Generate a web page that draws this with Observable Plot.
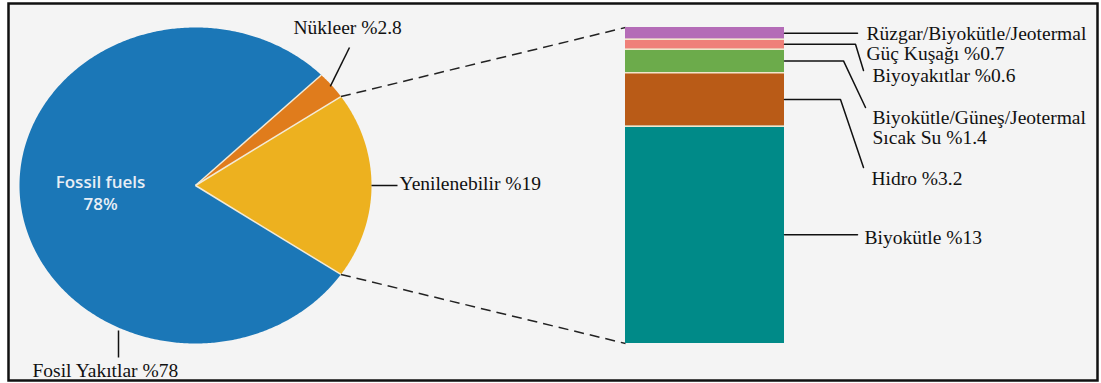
<!DOCTYPE html>
<html><head><meta charset="utf-8">
<script src="https://cdn.jsdelivr.net/npm/d3@7"></script>
<script src="https://cdn.jsdelivr.net/npm/@observablehq/plot@0.6"></script>
<style>
html,body{margin:0;padding:0;background:#fff;}
#chart svg{display:block;}
</style>
</head><body><div id="chart"></div>
<script>
// ---- Pie data (world energy consumption shares) ----
const pieNames = ["Yenilenebilir", "Nükleer", "Fosil Yakıtlar"];
const pieValues = [19, 2.8, 78];
const pieLabels = ["Yenilenebilir %19", "Nükleer %2.8", "Fosil Yakıtlar %78"];
const pieColors = ["#edb11f", "#e07c1c", "#1b77b7"];
const pieInnerLabel = "Fossil fuels\n78%";

// ---- Bar data (breakdown of renewables), bottom to top ----
const barNames = ["Biyokütle", "Hidro", "Biyokütle/Güneş/Jeotermal Sıcak Su", "Biyoyakıtlar", "Rüzgar/Biyokütle/Jeotermal Güç Kuşağı"];
const barValues = [13, 3.2, 1.4, 0.6, 0.7];
const barLabels = ["Biyokütle %13", "Hidro %3.2", "Biyokütle/Güneş/Jeotermal\nSıcak Su %1.4", "Biyoyakıtlar %0.6", "Rüzgar/Biyokütle/Jeotermal\nGüç Kuşağı %0.7"];
const barColors = ["#008a88", "#b95b17", "#6cab4b", "#ef8079", "#b46cb7"];

// ---- layout (pixels) ----
const W = 1101, H = 383;
const barTopPx = 27, barBotPx = 343;
const barX1 = 625, barX2 = 784;
const pieCx = 195, pieRx = 176;
const total = d3.sum(barValues);
const py2y = p => (barBotPx - p) / (barBotPx - barTopPx) * total;
const pieCy = total / 2, pieRy = total / 2;

// leader layout for bar labels (pixels)
const leaderElbowX = [857, 840, 843, 855, 857];
const leaderEnd = [null, [863, 167], [865, 107], [863, 70], null];
const labelX = [864, 871, 872, 872, 866];
const labelPy = [237, 178, 127, 75, 43];

// ---- pie geometry from data ----
const pieSum = d3.sum(pieValues);
const start = -pieValues[0] / pieSum * Math.PI;
const cumPie = [0, ...d3.cumsum(pieValues)];
const slices = pieNames.map((name, i) => {
  const a0 = start + cumPie[i] / pieSum * 2 * Math.PI;
  const a1 = start + cumPie[i + 1] / pieSum * 2 * Math.PI;
  return {name, a0, a1, mid: (a0 + a1) / 2};
});
const ell = (a, r = 1) => ({x: pieCx + r * pieRx * Math.cos(a), y: pieCy + r * pieRy * Math.sin(a)});
const piePts = [];
for (const s of slices) {
  piePts.push({name: s.name, x: pieCx, y: pieCy});
  const n = Math.max(4, Math.ceil((s.a1 - s.a0) / 0.01));
  for (let k = 0; k <= n; k++) {
    const p = ell(s.a0 + (s.a1 - s.a0) * k / n);
    piePts.push({name: s.name, ...p});
  }
  piePts.push({name: s.name, x: pieCx, y: pieCy});
}
const pieEdges = slices.map(s => ({...ell(s.a0), cx: pieCx, cy: pieCy}));

// ---- bar data ----
const barData = barNames.map((name, i) => ({name, value: barValues[i]}));
const cumBar = [0, ...d3.cumsum(barValues)];
const separators = cumBar.slice(1, -1);

// bar leaders
const barLeaders = [];
barNames.forEach((name, i) => {
  const mid = cumBar[i] + barValues[i] / 2;
  barLeaders.push({k: i, x: barX2, y: mid});
  barLeaders.push({k: i, x: leaderElbowX[i], y: mid});
  if (leaderEnd[i]) barLeaders.push({k: i, x: leaderEnd[i][0], y: py2y(leaderEnd[i][1])});
});
const barText = barLabels.map((t, i) => ({t, x: labelX[i], y: py2y(labelPy[i])}));

// pie leaders & labels
const yen = slices[0], nuk = slices[1];
const yenP = ell(yen.mid);
const nukP = ell(nuk.mid, 0.99);
const pieLeaders = [
  {x1: yenP.x, y1: yenP.y, x2: 397, y2: yenP.y},
  {x1: nukP.x, y1: nukP.y, x2: 349, y2: py2y(47)},
  {x1: 118, y1: py2y(330), x2: 118, y2: py2y(357)}
];
const pieText = [
  {t: pieLabels[0], x: 399, y: py2y(183)},
  {t: pieLabels[1], x: 293, y: py2y(27)},
  {t: pieLabels[2], x: 32, y: py2y(370)}
];
const yA = ell(yen.a0), yB = ell(yen.a1);
const dashes = [
  {x1: yB.x, y1: yB.y, x2: barX1, y2: total},
  {x1: yA.x, y1: yA.y, x2: barX1, y2: 0}
];

const serif = "'Liberation Serif', 'Times New Roman', serif";

const chart = Plot.plot({
  width: W, height: H,
  marginLeft: 8, marginTop: 3, marginRight: 4, marginBottom: 3,
  x: {domain: [0, W], range: [0, W], axis: null},
  y: {domain: [0, total], range: [barBotPx, barTopPx], axis: null},
  color: {domain: [...pieNames, ...barNames], range: [...pieColors, ...barColors]},
  style: {background: "#fff", overflow: "visible"},
  marks: [
    Plot.frame({fill: "#f4f4f4", stroke: "#111", strokeWidth: 2.5}),
    // pie
    Plot.line(piePts, {x: "x", y: "y", z: "name", fill: "name", stroke: null}),
    Plot.link(pieEdges, {x1: "cx", y1: "cy", x2: "x", y2: "y", stroke: "#f3ead6", strokeWidth: 1.5}),
    Plot.text([pieInnerLabel], {x: 100, y: py2y(191), text: d => d, fill: "#e8eef5", fontFamily: "'Open Sans', sans-serif", fontSize: 17, fontWeight: 600, lineHeight: 22 / 17}),
    // dashed connectors
    Plot.link(dashes, {x1: "x1", y1: "y1", x2: "x2", y2: "y2", stroke: "#222", strokeWidth: 1.5, strokeDasharray: "10,6"}),
    // stacked bar
    Plot.rectY(barData, {x1: barX1, x2: barX2, y: "value", fill: "name"}),
    Plot.ruleY(separators, {x1: barX1, x2: barX2, stroke: "#f1e6cc", strokeWidth: 1.5}),
    // leaders
    Plot.link(pieLeaders, {x1: "x1", y1: "y1", x2: "x2", y2: "y2", stroke: "#111", strokeWidth: 1.5}),
    Plot.line(barLeaders, {x: "x", y: "y", z: "k", stroke: "#111", strokeWidth: 1.5}),
    // labels
    Plot.text(pieText, {x: "x", y: "y", text: "t", textAnchor: "start", fontFamily: serif, fontSize: 19.5, fill: "#111"}),
    Plot.text(barText, {x: "x", y: "y", text: "t", textAnchor: "start", fontFamily: serif, fontSize: 19.5, fill: "#111", lineHeight: 20 / 19.5})
  ]
});
document.getElementById("chart").append(chart);
</script>
</body></html>
